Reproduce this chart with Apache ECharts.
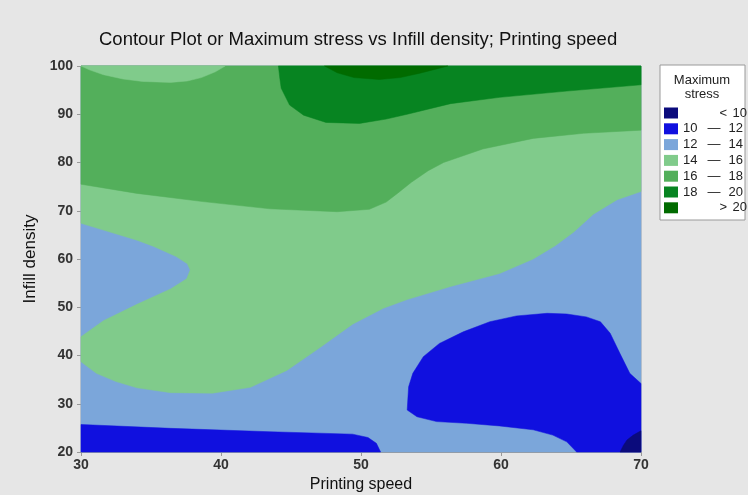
<!DOCTYPE html>
<html>
<head>
<meta charset="utf-8">
<script src="https://cdn.jsdelivr.net/npm/echarts@6/dist/echarts.min.js"></script>
<style>
html,body{margin:0;padding:0;background:#e6e6e6;}
#chart{width:748px;height:495px;}
</style>
</head>
<body>
<div id="chart"></div>
<script>
// ---- data ----
const titleText = 'Contour Plot or Maximum stress vs Infill density; Printing speed';
const xName = 'Printing speed';
const yName = 'Infill density';
const legendTitle = 'Maximum\nstress';
const xMin = 30, xMax = 70, xStep = 10;
const yMin = 20, yMax = 100, yStep = 10;

const levelNames = ['< 10', '10 — 12', '12 — 14', '14 — 16', '16 — 18', '18 — 20', '> 20'];
const levelColors = ['#0b0b7c', '#1010df', '#7ba6da', '#80cb8b', '#53af5b', '#078421', '#016b00'];

// contour regions: [Printing speed, Infill density] boundary points
const region12to14Base = [[30,20],[70,20],[70,100],[30,100]];
const regionAbove14 = [[30,100],[30,67.4],[31.6,66.0],[34.0,63.9],[35.2,62.6],[36.8,60.5],[37.6,59.0],[37.8,57.7],[37.55,55.9],[36.4,53.8],[34.0,50.6],[31.6,47.2],[30,43.9],
  [30,38.7],[31.1,36.3],[32.5,34.6],[34.0,33.3],[36.4,32.3],[39.4,32.2],[42.1,33.4],[44.7,36.9],[47.1,41.7],[49.4,46.5],[51.6,49.8],[53.3,51.6],[56.4,54.3],[59.9,57.0],[62.3,60.0],[63.9,62.8],[65.2,65.6],[66.6,69.3],[68.3,72.3],[70,74.0],[70,100]];
const regionAbove16 = [[30,100],[30,75.5],[34.0,73.6],[38.7,71.9],[43.5,70.4],[48.3,69.8],[50.6,70.3],[51.8,71.8],[52.6,73.6],[53.6,75.9],[54.8,78.3],[55.9,80.0],[58.7,82.8],[62.3,85.0],[65.9,86.05],[70,86.7],[70,100]];
const regionTopLeft14 = [[30,100],[30.6,99.2],[31.6,98.2],[33.0,97.3],[34.4,96.8],[36.4,96.6],[37.6,96.9],[38.6,97.6],[39.6,98.8],[40.3,100]];
const regionAbove18 = [[44.1,100],[44.2,97.5],[44.3,95.4],[44.9,91.9],[45.9,89.8],[47.5,88.3],[49.9,88.1],[51.8,89.0],[53.3,90.0],[56.4,92.2],[59.9,93.5],[64.7,94.8],[70,96.1],[70,100]];
const regionAbove20 = [[47.4,100],[48.3,98.6],[49.5,97.6],[51.3,97.2],[52.8,97.6],[54.2,98.5],[55.4,99.4],[56.2,100]];
const region10to12Strip = [[30,20],[30,25.7],[36.4,24.9],[43.5,24.2],[49.4,23.7],[50.5,23.0],[51.1,21.8],[51.4,20]];
const region10to12Blob = [[70,34.2],[69.2,36.3],[68.5,40.4],[67.8,44.6],[67.1,47.0],[66.1,48.0],[64.7,48.6],[63.3,48.75],[61.1,48.2],[59.2,47.0],[57.3,44.9],[55.6,42.5],[54.45,39.75],[53.7,36.3],[53.4,33.5],[53.3,28.7],
  [54.0,27.3],[55.4,26.3],[57.55,25.95],[59.9,25.4],[62.3,24.6],[63.7,23.5],[64.7,22.1],[65.4,20],[70,20]];
const regionBelow10 = [[68.5,20],[68.75,21.4],[69.0,22.5],[69.45,23.5],[70,24.4],[70,20]];

const layers = [
  {level: 2, pts: region12to14Base},
  {level: 3, pts: regionAbove14},
  {level: 4, pts: regionAbove16},
  {level: 3, pts: regionTopLeft14},
  {level: 5, pts: regionAbove18},
  {level: 6, pts: regionAbove20},
  {level: 1, pts: region10to12Strip},
  {level: 1, pts: region10to12Blob},
  {level: 0, pts: regionBelow10}
];

// ---- chart ----
const chart = echarts.init(document.getElementById('chart'));
const series = layers.map(function (layer) {
  return {
    type: 'custom',
    name: levelNames[layer.level],
    coordinateSystem: 'cartesian2d',
    itemStyle: {color: levelColors[layer.level]},
    silent: true,
    animation: false,
    data: layer.pts,
    renderItem: function (params, api) {
      if (params.dataIndex !== 0) return null;
      const pts = layer.pts.map(function (p) { return api.coord(p); });
      return {
        type: 'polygon',
        shape: {points: pts},
        style: {fill: levelColors[layer.level], stroke: levelColors[layer.level], lineWidth: 0.5}
      };
    }
  };
});

function legendFmt(name) {
  const parts = name.split(' ');
  if (parts.length === 3) return '{a|' + parts[0] + '}{b|' + parts[1] + '}{c|' + parts[2] + '}';
  return '{a|}{b2|' + parts[0] + '}{c|' + parts[1] + '}';
}

const richBase = {fontSize: 13, fontFamily: 'Liberation Sans', color: '#222', lineHeight: 13};
chart.setOption({
  backgroundColor: '#e6e6e6',
  animation: false,
  title: {
    text: titleText,
    left: 94, top: 25,
    textStyle: {fontFamily: 'Liberation Sans', fontSize: 18.5, fontWeight: 'normal', color: '#111'}
  },
  grid: {left: 81, right: 107, top: 66, bottom: 43, outerBoundsMode: 'none', containLabel: false, show: true, borderColor: '#aaaaaa', borderWidth: 1, backgroundColor: 'transparent'},
  xAxis: {
    type: 'value', min: xMin, max: xMax, interval: xStep,
    name: xName, nameLocation: 'middle', nameGap: 23,
    nameTextStyle: {fontFamily: 'Liberation Sans', fontSize: 16, color: '#111'},
    axisLine: {show: true, lineStyle: {color: '#999'}},
    axisTick: {show: true, length: 4, lineStyle: {color: '#999'}},
    axisLabel: {fontFamily: 'Liberation Sans', fontSize: 14, fontWeight: 'bold', color: '#333', margin: 6},
    splitLine: {show: false}
  },
  yAxis: {
    type: 'value', min: yMin, max: yMax, interval: yStep,
    name: yName, nameLocation: 'middle', nameGap: 33,
    nameTextStyle: {fontFamily: 'Liberation Sans', fontSize: 17, color: '#111'},
    axisLine: {show: true, lineStyle: {color: '#999'}},
    axisTick: {show: true, length: 4, lineStyle: {color: '#999'}},
    axisLabel: {fontFamily: 'Liberation Sans', fontSize: 14, fontWeight: 'bold', color: '#333', margin: 8},
    splitLine: {show: false}
  },
  legend: {
    data: levelNames,
    orient: 'vertical',
    left: 664, top: 106.5,
    itemWidth: 14, itemHeight: 11, itemGap: 2.8,
    icon: 'rect',
    selectedMode: false,
    padding: 0,
    formatter: legendFmt,
    textStyle: {
      fontFamily: 'Liberation Sans', fontSize: 13, color: '#222', lineHeight: 13,
      rich: {
        a: Object.assign({width: 18, align: 'left'}, richBase),
        b: Object.assign({width: 26, align: 'center'}, richBase),
        b2: Object.assign({width: 26, align: 'right', padding: [0, 4, 0, 0]}, richBase),
        c: Object.assign({width: 16, align: 'right'}, richBase)
      }
    }
  },
  graphic: [
    {type: 'rect', z: -1, shape: {x: 660, y: 65, width: 85, height: 155}, style: {fill: '#ffffff', stroke: '#9a9a9a', lineWidth: 1}},
    {type: 'text', x: 702, y: 73, style: {text: legendTitle, align: 'center', verticalAlign: 'top', fontFamily: 'Liberation Sans', fontSize: 13, lineHeight: 14, fill: '#222'}}
  ],
  series: series
});
</script>
</body>
</html>
